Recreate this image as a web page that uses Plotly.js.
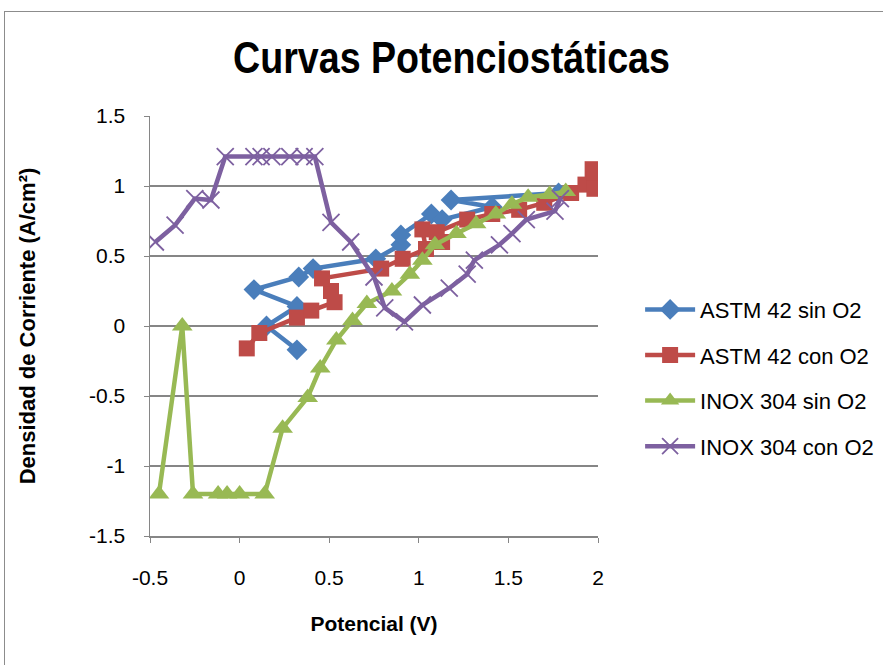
<!DOCTYPE html>
<html>
<head>
<meta charset="utf-8">
<script src="https://cdn.plot.ly/plotly-3.0.1.min.js"></script>
<style>
html,body{margin:0;padding:0;background:#fff;}
#wrap{position:relative;width:883px;height:665px;overflow:hidden;}
#frame{position:absolute;left:4px;top:11px;width:900px;height:700px;border:1.5px solid #8c8c8c;box-sizing:border-box;pointer-events:none;}
#chart{position:absolute;left:0;top:0;width:920px;height:665px;}
</style>
</head>
<body>
<div id="wrap"><div id="chart"></div><div id="frame"></div></div>
<script>
// ASTM 42 sin O2
const astmSinX = [0.32, 0.15, 0.32, 0.08, 0.33, 0.41, 0.76, 0.90, 0.90, 1.07, 1.13, 1.41, 1.18, 1.78];
const astmSinY = [-0.17, 0.0, 0.14, 0.26, 0.35, 0.41, 0.48, 0.58, 0.65, 0.80, 0.76, 0.85, 0.90, 0.95];
// ASTM 42 con O2
const astmConX = [0.04, 0.11, 0.32, 0.40, 0.53, 0.51, 0.46, 0.79, 0.91, 1.04, 1.02, 1.13, 1.10, 1.27, 1.41, 1.56, 1.70, 1.85, 1.93, 1.97, 1.98, 1.98];
const astmConY = [-0.16, -0.05, 0.06, 0.11, 0.17, 0.25, 0.34, 0.41, 0.48, 0.55, 0.69, 0.60, 0.67, 0.76, 0.80, 0.83, 0.88, 0.95, 1.01, 1.12, 1.05, 0.98];
// INOX 304 sin O2
const inoxSinX = [-0.45, -0.32, -0.26, -0.12, -0.07, 0.0, 0.14, 0.24, 0.38, 0.45, 0.54, 0.63, 0.71, 0.85, 0.95, 1.02, 1.09, 1.21, 1.32, 1.43, 1.52, 1.61, 1.73, 1.82];
const inoxSinY = [-1.2, 0.0, -1.2, -1.2, -1.2, -1.2, -1.2, -0.73, -0.51, -0.30, -0.10, 0.04, 0.16, 0.25, 0.37, 0.47, 0.58, 0.66, 0.73, 0.80, 0.87, 0.92, 0.94, 0.96];
// INOX 304 con O2
const inoxConX = [-0.47, -0.36, -0.25, -0.16, -0.08, 0.08, 0.12, 0.18, 0.28, 0.36, 0.42, 0.51, 0.62, 0.75, 0.81, 0.92, 1.02, 1.17, 1.27, 1.31, 1.45, 1.52, 1.60, 1.76, 1.79];
const inoxConY = [0.60, 0.72, 0.91, 0.90, 1.21, 1.21, 1.21, 1.21, 1.21, 1.21, 1.21, 0.74, 0.60, 0.35, 0.13, 0.03, 0.15, 0.27, 0.37, 0.47, 0.58, 0.66, 0.76, 0.82, 0.91];

const seriesNames = ['ASTM 42 sin O2', 'ASTM 42 con O2', 'INOX 304 sin O2', 'INOX 304 con O2'];
const xTicks = [-0.5, 0, 0.5, 1, 1.5, 2];
const yTicks = [-1.5, -1, -0.5, 0, 0.5, 1, 1.5];

const sans = '"Liberation Sans", Arial, sans-serif';

const traces = [
  {x: astmSinX, y: astmSinY, name: seriesNames[0], legendgroup: 'g1', mode: 'lines+markers',
   line: {color: '#4A7EBB', width: 4.5},
   marker: {symbol: 'diamond', size: 16, color: '#4A7EBB'}},
  {x: astmConX, y: astmConY, name: seriesNames[1], legendgroup: 'g2', mode: 'lines+markers',
   line: {color: '#BE4B48', width: 4.5},
   marker: {symbol: 'square', size: 16, color: '#BE4B48'}},
  {x: inoxSinX, y: inoxSinY, name: seriesNames[2], legendgroup: 'g3', mode: 'lines+markers',
   line: {color: '#98B954', width: 4.5},
   marker: {symbol: 'triangle-up', size: 18, color: '#98B954'}},
  {x: inoxConX, y: inoxConY, name: seriesNames[3], legendgroup: 'g4', mode: 'lines+markers',
   line: {color: '#7D60A0', width: 4.5},
   marker: {symbol: 'x-thin-open', size: 17, color: '#7D60A0', line: {color: '#7D60A0', width: 1.8}}}
];

// figure is laid out 920px wide (clipped to 883px) so the legend never pushes the margins
const layout = {
  width: 920, height: 665,
  margin: {l: 150, r: 322, t: 116, b: 129},
  paper_bgcolor: 'rgba(0,0,0,0)', plot_bgcolor: '#fff',
  showlegend: true,
  title: {text: 'Curvas Potenciostáticas', x: 451.5 / 920, xanchor: 'center', y: 0.914, yanchor: 'middle',
          font: {family: sans, size: 44, color: '#000', weight: 'bold'}},
  xaxis: {range: [-0.5, 2], tickvals: xTicks, ticktext: xTicks.map(String),
          showgrid: false, zeroline: false, showline: true, linecolor: '#868686', linewidth: 1.5,
          ticks: 'outside', ticklen: 5, tickcolor: '#868686', ticklabelstandoff: 17,
          tickfont: {family: sans, size: 21, color: '#000'},
          title: {text: 'Potencial (V)', standoff: 28,
                  font: {family: sans, size: 21, color: '#000', weight: 'bold'}}},
  yaxis: {range: [-1.5, 1.5], tickvals: yTicks, ticktext: yTicks.map(String),
          showgrid: true, gridcolor: '#868686', gridwidth: 1.5, zeroline: false,
          showline: true, linecolor: '#868686', linewidth: 1.5,
          ticks: 'outside', ticklen: 5, tickcolor: '#868686', ticklabelstandoff: 14,
          tickfont: {family: sans, size: 21, color: '#000'},
          title: {text: 'Densidad de Corriente (A/cm²)', standoff: 47,
                  font: {family: sans, size: 22, color: '#000', weight: 'bold'}}},
  legend: {x: 1.094, xanchor: 'left', y: 0.376, yanchor: 'middle',
           font: {family: sans, size: 22, color: '#000'},
           itemwidth: 50, tracegroupgap: 14, traceorder: 'grouped', bgcolor: 'rgba(0,0,0,0)'}
};

Plotly.newPlot('chart', traces, layout, {displayModeBar: false, staticPlot: true}).then(function () {
  // Narrow the title horizontally to mimic the condensed bold face of the original
  const g = document.querySelector('#chart .gtitle');
  if (g) {
    const bb = g.getBBox();
    const cx = bb.x + bb.width / 2;
    const s = 437 / bb.width;
    g.setAttribute('transform', 'translate(' + cx + ',0) scale(' + s + ',1) translate(' + (-cx) + ',0)');
  }
});
</script>
</body>
</html>
